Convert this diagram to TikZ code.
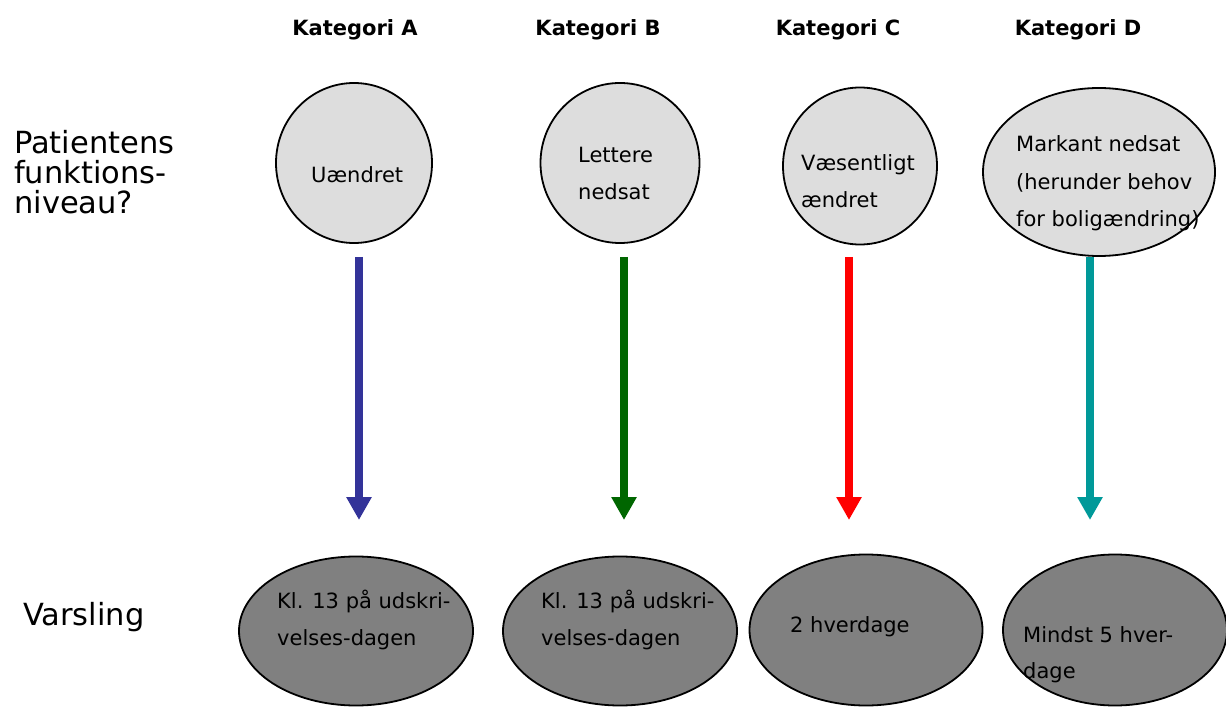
\documentclass[tikz,border=0pt]{standalone}
\usepackage{fontspec}
\setmainfont{DejaVu Sans}
\usetikzlibrary{arrows.meta,shapes.geometric}
\definecolor{topfill}{HTML}{DDDDDD}
\definecolor{botfill}{HTML}{808080}
\definecolor{arrA}{HTML}{333399}
\definecolor{arrB}{HTML}{006600}
\definecolor{arrC}{HTML}{FF0000}
\definecolor{arrD}{HTML}{009999}
\tikzset{
  topell/.style={draw=black, line width=1.8pt, fill=topfill, ellipse, inner sep=0pt},
  botell/.style={draw=black, line width=1.8pt, fill=botfill, ellipse, inner sep=0pt},
  etext/.style={anchor=base west, inner sep=0pt, font=\fontsize{21}{24}\selectfont},
  head/.style={anchor=base, inner sep=0pt, font=\bfseries\fontsize{21}{24}\selectfont},
  side/.style={anchor=base west, inner sep=0pt, font=\fontsize{30.5}{34}\selectfont},
  flow/.style={line width=8pt, -{Triangle[width=24pt,length=23pt]}}
}
\begin{document}
\begin{tikzpicture}[x=1pt,y=-1pt]
\useasboundingbox (0,0) rectangle (1226,711);
% headers
\node[head] (hA) at (355,36) {Kategori A};
\node[head] (hB) at (598,36) {Kategori B};
\node[head] (hC) at (838,36) {Kategori C};
\node[head] (hD) at (1078,36) {Kategori D};
% side labels
\node[side] (s1) at (14,154) {Patientens};
\node[side] (s2) at (14,184) {funktions-};
\node[side] (s3) at (14,214) {niveau?};
\node[side] (s4) at (23,625) {Varsling};
% top shapes
\node[topell, minimum width=156pt, minimum height=160pt] (tA) at (354,163) {};
\node[topell, minimum width=159pt, minimum height=160pt] (tB) at (620,163) {};
\node[topell, minimum width=154pt, minimum height=157pt] (tC) at (860,166) {};
\node[topell, minimum width=232pt, minimum height=168pt] (tD) at (1099,172) {};
\node[etext] (tA1) at (311,183) {Uændret};
\node[etext] (tB1) at (578,163) {Lettere};
\node[etext] (tB2) at (578,200) {nedsat};
\node[etext] (tC1) at (801,171) {Væsentligt};
\node[etext] (tC2) at (801,208) {ændret};
\node[etext] (tD1) at (1016,152) {Markant nedsat};
\node[etext] (tD2) at (1016,189.5) {(herunder behov};
\node[etext] (tD3) at (1016,227) {for boligændring)};
% bottom shapes
\node[botell, minimum width=234pt, minimum height=149pt] (bA) at (356,631) {};
\node[botell, minimum width=234pt, minimum height=149pt] (bB) at (620,631) {};
\node[botell, minimum width=233pt, minimum height=151pt] (bC) at (866,630) {};
\node[botell, minimum width=224pt, minimum height=151pt] (bD) at (1115,630) {};
\node[etext] (bA1) at (277,608) {Kl. 13 på udskri-};
\node[etext] (bA2) at (277,645) {velses-dagen};
\node[etext] (bB1) at (541,608) {Kl. 13 på udskri-};
\node[etext] (bB2) at (541,645) {velses-dagen};
\node[etext] (bC1) at (790,632) {2 hverdage};
\node[etext] (bD1) at (1023,642) {Mindst 5 hver-};
\node[etext] (bD2) at (1023,678) {dage};
% arrows
\coordinate (aA1) at (359,257); \coordinate (aA2) at (359,520);
\coordinate (aB1) at (624,257); \coordinate (aB2) at (624,520);
\coordinate (aC1) at (849,257); \coordinate (aC2) at (849,520);
\coordinate (aD1) at (1090,257); \coordinate (aD2) at (1090,520);
\draw[flow, arrA] (aA1) -- (aA2);
\draw[flow, arrB] (aB1) -- (aB2);
\draw[flow, arrC] (aC1) -- (aC2);
\draw[flow, arrD] (aD1) -- (aD2);
\end{tikzpicture}
\end{document}
